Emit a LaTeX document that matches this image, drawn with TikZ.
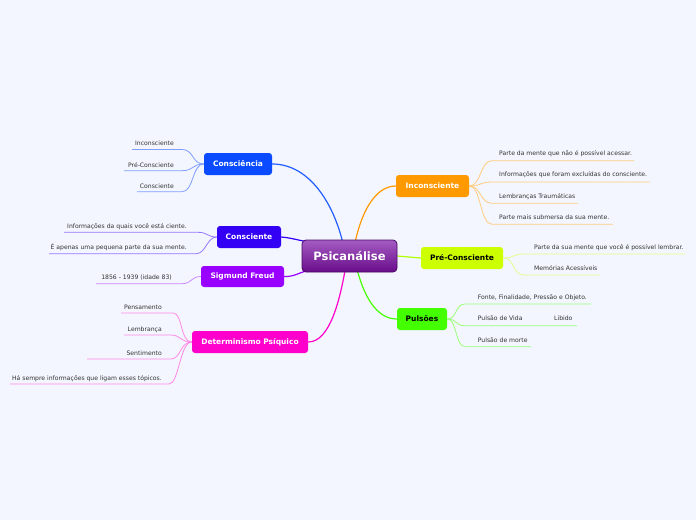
\documentclass[tikz,border=0pt]{standalone}
\usepackage{fontspec}
\setmainfont{DejaVu Sans}
\usetikzlibrary{backgrounds}
\definecolor{bg}{HTML}{F3F6FE}
\definecolor{cBlue}{HTML}{0A4BFF}
\definecolor{cBlueL}{HTML}{7F9FFF}
\definecolor{cInd}{HTML}{3300F5}
\definecolor{cIndL}{HTML}{9477FF}
\definecolor{cVio}{HTML}{9900FF}
\definecolor{cVioL}{HTML}{CC88FF}
\definecolor{cMag}{HTML}{FF00CC}
\definecolor{cMagL}{HTML}{FF88E8}
\definecolor{cOra}{HTML}{FF9900}
\definecolor{cOraL}{HTML}{FFCC80}
\definecolor{cYel}{HTML}{CCFF00}
\definecolor{cYelL}{HTML}{E2FF8A}
\definecolor{cGre}{HTML}{44FF00}
\definecolor{cGreL}{HTML}{99FF77}
\definecolor{txt}{HTML}{333333}
\definecolor{pTop}{HTML}{A45CC2}
\definecolor{pBot}{HTML}{690C8A}
\definecolor{pBord}{HTML}{4A0866}
\tikzset{
  topic/.style={rounded corners=3pt, inner sep=0pt, minimum height=22pt, text=white, font=\fontsize{7.5}{8}\selectfont\bfseries},
  leafR/.style={anchor=base west, inner sep=0pt, text=txt, font=\fontsize{6.1}{7}\selectfont},
  leafL/.style={anchor=base east, inner sep=0pt, text=txt, font=\fontsize{6.1}{7}\selectfont},
  mainline/.style={line width=1.2pt},
  leafline/.style={line width=0.8pt},
}
\begin{document}
\begin{tikzpicture}[x=1pt,y=-1pt]
\useasboundingbox (0,0) rectangle (696,520);
\begin{scope}[on background layer]
\fill[bg] (0,0) rectangle (696,520);
\end{scope}

% central node
\node[rounded corners=4pt, draw=pBord, line width=0.8pt, top color=pTop, bottom color=pBot, minimum width=95pt, minimum height=32pt, inner sep=0pt, text=white, font=\fontsize{11.5}{13}\selectfont\bfseries] (c) at (349.5,256) {Psicanálise};

% topics
\node[topic, fill=cBlue, minimum width=68pt] (consc) at (238,164) {Consciência};
\node[topic, fill=cInd, minimum width=64pt] (consc2) at (249,237) {Consciente};
\node[topic, fill=cVio, minimum width=83pt, minimum height=21pt] (freud) at (242.5,276.5) {Sigmund Freud};
\node[topic, fill=cMag, minimum width=116pt] (det) at (250,342) {Determinismo Psíquico};
\node[topic, fill=cOra, minimum width=73pt] (inc) at (432.5,186) {Inconsciente};
\node[topic, fill=cYel, minimum width=82pt, text=black] (pre) at (462,258) {Pré-Consciente};
\node[topic, fill=cGre, minimum width=50pt, text=black] (pul) at (422,319) {Pulsões};

% leaves: Consciencia
\node[leafL] (a1) at (174,145) {Inconsciente};
\node[leafL] (a2) at (174,167) {Pré-Consciente};
\node[leafL] (a3) at (174,188) {Consciente};
\coordinate (a1l) at (132,149.5); \coordinate (a1r) at (182,149.5);
\coordinate (a2l) at (124,170.7); \coordinate (a2r) at (182,170.7);
\coordinate (a3l) at (137,191.7); \coordinate (a3r) at (182,191.7);
% Consciente
\node[leafL] (b1) at (187,228) {Informações da quais você está ciente.};
\node[leafL] (b2) at (187,249) {É apenas uma pequena parte da sua mente.};
\coordinate (b1l) at (64,232.3); \coordinate (b1r) at (198,232.3);
\coordinate (b2l) at (49,253.7); \coordinate (b2r) at (196,253.7);
% Freud
\node[leafL] (f1) at (172,279) {1856 - 1939 (idade 83)};
\coordinate (f1l) at (96,283.7); \coordinate (f1r) at (182,283.7);
% Determinismo
\node[leafL] (d1) at (162,309) {Pensamento};
\node[leafL] (d2) at (162,331) {Lembrança};
\node[leafL] (d3) at (162,355) {Sentimento};
\node[leafL] (d4) at (162,380) {Há sempre informações que ligam esses tópicos.};
\coordinate (d1l) at (121,313); \coordinate (d1r) at (173,313);
\coordinate (d2l) at (124,335); \coordinate (d2r) at (171,335);
\coordinate (d3l) at (87,359); \coordinate (d3r) at (171,359);
\coordinate (d4l) at (10,384); \coordinate (d4r) at (169,384);
% Inconsciente
\node[leafR] (i1) at (499,155) {Parte da mente que não é possível acessar.};
\node[leafR] (i2) at (499,176.7) {Informações que foram excluídas do consciente.};
\node[leafR] (i3) at (499,198) {Lembranças Traumáticas};
\node[leafR] (i4) at (499,219.3) {Parte mais submersa da sua mente.};
\coordinate (i1l) at (492,160.7); \coordinate (i1r) at (634,160.7);
\coordinate (i2l) at (492,182); \coordinate (i2r) at (650,182);
\coordinate (i3l) at (492,203.3); \coordinate (i3r) at (578,203.3);
\coordinate (i4l) at (492,224.3); \coordinate (i4r) at (613,224.3);
% Pre-Consciente
\node[leafR] (p1) at (534,249.3) {Parte da sua mente que você é possível lembrar.};
\node[leafR] (p2) at (534,270.7) {Memórias Acessíveis};
\coordinate (p1l) at (524,254); \coordinate (p1r) at (685,254);
\coordinate (p2l) at (524,275); \coordinate (p2r) at (600,275);
% Pulsoes
\node[leafR] (u1) at (477.7,299.3) {Fonte, Finalidade, Pressão e Objeto.};
\node[leafR] (u2) at (477.7,320.7) {Pulsão de Vida};
\node[leafR] (u3) at (477.7,342.3) {Pulsão de morte};
\node[leafR] (u2b) at (554,320.7) {Libido};
\coordinate (u1l) at (465,304); \coordinate (u1r) at (591,304);
\coordinate (u2l) at (465,325.7); \coordinate (u2r) at (577,325.7);
\coordinate (u3l) at (465,346.7); \coordinate (u3r) at (531,346.7);

\begin{scope}[on background layer]
% main connectors
\draw[mainline, cBlue!90!white] (consc.east) .. controls (310,164) and (335,205) .. (344,248);
\draw[mainline, cInd] (consc2.east) .. controls (293,238) and (300,241) .. (315,243);
\draw[mainline, cVio] (freud.east) .. controls (296,277) and (300,271) .. (315,269);
\draw[mainline, cMag] (det.east) .. controls (330,342) and (340,300) .. (346,265);
\draw[mainline, cOra] (inc.west) .. controls (374,186) and (360,215) .. (354,248);
\draw[mainline, cGre] (pul.west) .. controls (376,319) and (363,295) .. (356,265);
\draw[mainline, cYel!85!green] (pre.west) -- (c.east);
% leaf connectors
\foreach \n in {a1,a2,a3}
  \draw[leafline, cBlueL] (consc.west) .. controls +(-12,0) and +(12,0) .. (\n r) -- (\n l);
\foreach \n in {b1,b2}
  \draw[leafline, cIndL] (consc2.west) .. controls +(-10,0) and +(10,0) .. (\n r) -- (\n l);
\draw[leafline, cVioL] (freud.west) .. controls +(-10,0) and +(10,0) .. (f1r) -- (f1l);
\foreach \n in {d1,d2,d3,d4}
  \draw[leafline, cMagL] (det.west) .. controls +(-12,0) and +(10,0) .. (\n r) -- (\n l);
\foreach \n in {i1,i2,i3,i4}
  \draw[leafline, cOraL] (inc.east) .. controls +(12,0) and +(-12,0) .. (\n l) -- (\n r);
\foreach \n in {p1,p2}
  \draw[leafline, cYelL] (pre.east) .. controls +(12,0) and +(-12,0) .. (\n l) -- (\n r);
\foreach \n in {u1,u2,u3}
  \draw[leafline, cGreL] (pul.east) .. controls +(10,0) and +(-10,0) .. (\n l) -- (\n r);
\end{scope}
\end{tikzpicture}
\end{document}
